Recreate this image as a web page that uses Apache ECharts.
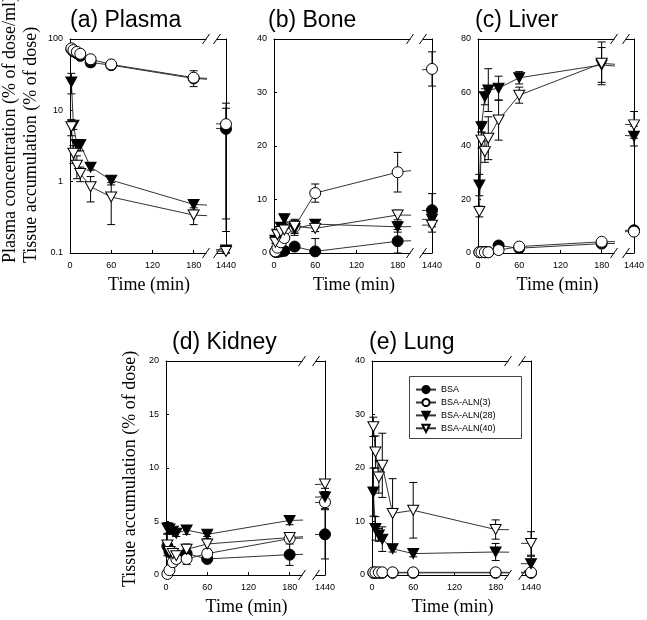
<!DOCTYPE html>
<html><head><meta charset="utf-8">
<script src="https://cdn.jsdelivr.net/npm/echarts@6/dist/echarts.min.js"></script>
<style>html,body{margin:0;padding:0;background:#fff}#c{width:647px;height:620px}</style>
</head><body><div id="c"></div>
<script>
// ---------- DATA ----------
const times = [2, 5, 10, 15, 30, 60, 180, 1440];
const groups = ['BSA', 'BSA-ALN(3)', 'BSA-ALN(28)', 'BSA-ALN(40)'];
const xTickLabels = [0, 60, 120, 180];
const breakTickLabels = [1440];

const plasma_BSA      = [72, 67, 63, 58, 47, 43, 28, 5.5];
const plasma_BSA_sd   = [0, 0, 0, 0, 6, 0, 0, 5.2];
const plasma_ALN3     = [74, 70, 66, 62, 52, 44, 28.7, 6.4];
const plasma_ALN3_sd  = [0, 0, 0, 0, 0, 0, 7.2, 6.2];
const plasma_ALN28    = [25, 6.2, 3.3, 3.3, 1.6, 1.05, 0.48, 0.11];
const plasma_ALN28_sd = [8, 0.8, 0.6, 0.6, 0.15, 0.15, 0.08, 0.01];
const plasma_ALN40    = [5.9, 2.5, 1.7, 1.3, 0.85, 0.61, 0.34, 0.105];
const plasma_ALN40_sd = [1.5, 0.7, 0.6, 0.3, 0.33, 0.36, 0.09, 0.01];

const bone_BSA      = [0.2, 0.2, 0.3, 0.4, 1.2, 0.3, 2.2, 8.0];
const bone_BSA_sd   = [0, 0, 0, 0, 0.5, 2.4, 2.2, 3.1];
const bone_ALN3     = [0.3, 1.0, 2.0, 2.8, 4.9, 11.2, 15.1, 34.4];
const bone_ALN3_sd  = [0.2, 0.4, 0.6, 0.8, 1.2, 1.7, 3.7, 3.2];
const bone_ALN28    = [2.4, 3.5, 4.8, 6.4, 4.6, 5.4, 4.9, 6.3];
const bone_ALN28_sd = [0.6, 0.8, 0.8, 0.8, 1.3, 0.5, 1.0, 1.0];
const bone_ALN40    = [2.0, 3.4, 4.0, 4.3, 5.0, 4.6, 7.1, 5.2];
const bone_ALN40_sd = [0.8, 1.0, 1.0, 1.0, 1.3, 0.6, 0.9, 1.3];

const liver_BSA      = [0.3, 0.3, 0.3, 0.3, 2.8, 1.8, 3.5, 8.5];
const liver_BSA_sd   = [0, 0, 0, 0, 0, 0, 0, 1.0];
const liver_ALN3     = [0.3, 0.3, 0.3, 0.3, 1.1, 2.4, 4.2, 8.0];
const liver_ALN3_sd  = [0, 0, 0, 0, 0, 0, 0.5, 1.5];
const liver_ALN28    = [25.4, 47.2, 58.4, 60.9, 61.6, 65.5, 70.3, 43.7];
const liver_ALN28_sd = [4, 2, 3, 8, 4.5, 2.3, 6.5, 3.7];
const liver_ALN40    = [15.5, 42.2, 37.9, 42.9, 49.7, 59.0, 70.9, 47.9];
const liver_ALN40_sd = [2, 3, 4, 8, 7.5, 3, 8, 5];

const kidney_BSA      = [2.7, 2.2, 1.9, 1.8, 2.0, 1.5, 1.9, 3.8];
const kidney_BSA_sd   = [0.3, 0.3, 0.3, 0.3, 0.4, 0.2, 1.0, 2.3];
const kidney_ALN3     = [0.1, 0.45, 1.2, 1.5, 1.5, 2.0, 3.4, 6.8];
const kidney_ALN3_sd  = [0.1, 0.2, 0.4, 0.4, 0.5, 0.3, 0.3, 0.6];
const kidney_ALN28    = [4.4, 4.3, 4.1, 3.9, 4.2, 3.8, 5.1, 7.3];
const kidney_ALN28_sd = [0.5, 0.4, 0.3, 0.3, 0.4, 0.2, 0.4, 0.5];
const kidney_ALN40    = [2.8, 2.2, 2.0, 1.8, 2.4, 2.9, 3.5, 8.5];
const kidney_ALN40_sd = [1.0, 0.5, 0.5, 0.5, 0.5, 0.5, 0.3, 0.4];

const lung_BSA      = [0.4, 0.4, 0.4, 0.4, 0.4, 0.4, 0.4, 0.4];
const lung_BSA_sd   = [0, 0, 0, 0, 0, 0, 0, 0];
const lung_ALN3     = [0.5, 0.5, 0.5, 0.5, 0.5, 0.5, 0.5, 0.5];
const lung_ALN3_sd  = [0, 0, 0, 0, 0, 0, 0, 0];
const lung_ALN28    = [15.5, 8.7, 7.5, 6.7, 4.9, 4.0, 4.3, 2.1];
const lung_ALN28_sd = [4.5, 2.2, 1.2, 2.3, 0.6, 0.6, 1.6, 1.4];
const lung_ALN40    = [27.7, 23.0, 18.3, 20.5, 11.5, 12.1, 8.5, 5.9];
const lung_ALN40_sd = [1.8, 3, 3, 6, 6.5, 5.2, 1.8, 2.2];

// ---------- LAYOUT / STYLE ----------
const panels = [
  {title:'(a) Plasma', L:70,  T:39,  R2:226, titleX:70,  yType:'log',   yMin:0.1, yMax:100,
   vals:[plasma_BSA, plasma_ALN3, plasma_ALN28, plasma_ALN40], sds:[plasma_BSA_sd, plasma_ALN3_sd, plasma_ALN28_sd, plasma_ALN40_sd]},
  {title:'(b) Bone',   L:274, T:39,  R2:432, titleX:268, yType:'value', yMin:0, yMax:40, yInt:10,
   vals:[bone_BSA, bone_ALN3, bone_ALN28, bone_ALN40], sds:[bone_BSA_sd, bone_ALN3_sd, bone_ALN28_sd, bone_ALN40_sd]},
  {title:'(c) Liver',  L:478, T:39,  R2:635, titleX:475, yType:'value', yMin:0, yMax:80, yInt:20,
   vals:[liver_BSA, liver_ALN3, liver_ALN28, liver_ALN40], sds:[liver_BSA_sd, liver_ALN3_sd, liver_ALN28_sd, liver_ALN40_sd]},
  {title:'(d) Kidney', L:166, T:361, R2:325, titleX:172, yType:'value', yMin:0, yMax:20, yInt:5,
   vals:[kidney_BSA, kidney_ALN3, kidney_ALN28, kidney_ALN40], sds:[kidney_BSA_sd, kidney_ALN3_sd, kidney_ALN28_sd, kidney_ALN40_sd]},
  {title:'(e) Lung',   L:372, T:361, R2:531, titleX:369, yType:'value', yMin:0, yMax:40, yInt:10,
   vals:[lung_BSA, lung_ALN3, lung_ALN28, lung_ALN40], sds:[lung_BSA_sd, lung_ALN3_sd, lung_ALN28_sd, lung_ALN40_sd]}
];
const H = 214, MW = 136, SW = 9, XMAX = 198, SEGMIN = 1430;
const TRI = 'path://M0,0L12,0L6,10Z';
const symbols = [
  {symbol:'circle', size:11, fill:'#000'},
  {symbol:'circle', size:11, fill:'#fff'},
  {symbol:TRI, size:[11,10], fill:'#000'},
  {symbol:TRI, size:[11,10], fill:'#fff'}
];
const SANS = 'Liberation Sans', SERIF = 'Liberation Serif';

const grids = [], xAxes = [], yAxes = [], series = [], graphics = [];

function errRender(params, api) {
  const x = api.value(0), lo = api.value(1), hi = api.value(2);
  const a = api.coord([x, hi]), b = api.coord([x, lo]);
  const w = 4, st = {stroke:'#000', lineWidth:1};
  return {type:'group', children:[
    {type:'line', shape:{x1:a[0], y1:a[1], x2:b[0], y2:b[1]}, style:st},
    {type:'line', shape:{x1:a[0]-w, y1:a[1], x2:a[0]+w, y2:a[1]}, style:st},
    {type:'line', shape:{x1:b[0]-w, y1:b[1], x2:b[0]+w, y2:b[1]}, style:st}
  ]};
}

let legendAxes = null;
panels.forEach((p, pi) => {
  const segs = [
    {left:p.L, width:MW, min:0, max:XMAX, ticks:xTickLabels, main:true, inSeg:t => t <= XMAX},
    {left:p.R2 - SW, width:SW, min:SEGMIN, max:1440, ticks:breakTickLabels, main:false, inSeg:t => t >= SEGMIN}
  ];
  segs.forEach(s => {
    const gi = grids.length;
    grids.push({left:s.left, top:p.T, width:s.width, height:H});
    const xi = xAxes.length;
    xAxes.push({type:'value', gridIndex:gi, position:'bottom', min:s.min, max:s.max, interval: s.main ? 60 : 10,
      axisLine:{show:true, onZero:false, lineStyle:{color:'#000', width:1}},
      axisTick:{show:true, inside:true, length:3, customValues:s.ticks, lineStyle:{color:'#000'}},
      axisLabel:{show:true, customValues:s.ticks, margin:8, fontSize:9, color:'#000', fontFamily:SANS,
        formatter: v => s.ticks.indexOf(v) >= 0 ? String(v) : ''},
      splitLine:{show:false}});
    xAxes.push({type:'value', gridIndex:gi, position:'top', min:s.min, max:s.max,
      axisLine:{show:true, onZero:false, lineStyle:{color:'#000', width:1}},
      axisTick:{show:false}, axisLabel:{show:false}, splitLine:{show:false}});
    const yi = yAxes.length;
    const ya = {type:p.yType, gridIndex:gi, position: s.main ? 'left' : 'right', min:p.yMin, max:p.yMax,
      axisLine:{show:true, onZero:false, lineStyle:{color:'#000', width:1}},
      axisTick:{show:s.main, inside:true, length:3, lineStyle:{color:'#000'}},
      axisLabel:{show:s.main, margin:7, fontSize:9, color:'#000', fontFamily:SANS},
      splitLine:{show:false}};
    if (p.yType === 'log') ya.logBase = 10; else ya.interval = p.yInt;
    yAxes.push(ya);
    if (pi === 4 && s.main) legendAxes = {xi, yi};

    // connecting lines (clipped by each segment)
    p.vals.forEach((v, gj) => {
      series.push({type:'line', xAxisIndex:xi, yAxisIndex:yi, data: times.map((t, k) => [t, v[k]]),
        symbol:'none', showSymbol:false, clip:true, silent:true, z:1,
        lineStyle:{color:'#333', width:1}});
    });
    // error bars
    const errData = [];
    p.vals.forEach((v, gj) => {
      times.forEach((t, k) => {
        const sd = p.sds[gj][k];
        if (s.inSeg(t) && sd > 0) {
          let lo = v[k] - sd; if (lo < p.yMin || (p.yType === 'log' && lo <= 0)) lo = p.yMin;
          let hi = Math.min(v[k] + sd, p.yMax);
          errData.push([t, lo, hi]);
        }
      });
    });
    series.push({type:'custom', xAxisIndex:xi, yAxisIndex:yi, data:errData, renderItem:errRender,
      encode:{x:0, y:[1,2]}, clip:false, silent:true, z:2});
    // markers
    p.vals.forEach((v, gj) => {
      const sy = symbols[gj];
      const pts = [];
      times.forEach((t, k) => { if (s.inSeg(t)) pts.push([t, v[k]]); });
      series.push({type:'scatter', xAxisIndex:xi, yAxisIndex:yi, data:pts, symbol:sy.symbol, symbolSize:sy.size,
        clip:false, silent:true, z:3, itemStyle:{color:sy.fill, borderColor:'#000', borderWidth:1, opacity:1}});
    });
  });

  // titles
  graphics.push({type:'text', x:p.titleX, y:p.T - 18, style:{text:p.title, fontSize:23, fontFamily:SANS, fill:'#000',
    align:'left', verticalAlign:'middle'}});
  graphics.push({type:'text', x:(p.L + p.R2) / 2 + 1, y:p.T + H + 32, style:{text:'Time (min)', fontSize:18, fontFamily:SERIF,
    fill:'#000', align:'center', verticalAlign:'middle'}});
  // axis break marks
  const R = p.L + MW, S = p.R2 - SW;
  [p.T, p.T + H].forEach(y => {
    [R, S].forEach(cx => {
      graphics.push({type:'line', shape:{x1:cx - 3.5, y1:y + 5, x2:cx + 3.5, y2:y - 5}, style:{stroke:'#000', lineWidth:1}});
    });
  });
});

// y-axis titles
graphics.push({type:'text', x:10, y:263, rotation:Math.PI / 2, style:{text:'Plasma concentration (% of dose/ml)',
  fontSize:18, fontFamily:SERIF, fill:'#000', align:'left', verticalAlign:'middle'}});
graphics.push({type:'text', x:31, y:263, rotation:Math.PI / 2, style:{text:'Tissue accumulation (% of dose)',
  fontSize:18, fontFamily:SERIF, fill:'#000', align:'left', verticalAlign:'middle'}});
graphics.push({type:'text', x:130, y:587, rotation:Math.PI / 2, style:{text:'Tissue accumulation (% of dose)',
  fontSize:18, fontFamily:SERIF, fill:'#000', align:'left', verticalAlign:'middle'}});
// legend frame
graphics.push({type:'rect', shape:{x:409.5, y:376.5, width:112, height:62}, style:{fill:null, stroke:'#444', lineWidth:1}, z:10});

// legend series (no data, icon only)
groups.forEach((g, gj) => {
  const sy = symbols[gj];
  series.unshift({type:'line', name:g, xAxisIndex:legendAxes.xi, yAxisIndex:legendAxes.yi, data:[],
    symbol:sy.symbol, symbolSize:sy.size, itemStyle:{color:sy.fill, borderColor:'#000', borderWidth:1},
    lineStyle:{color:'#333', width:1}});
});

const chart = echarts.init(document.getElementById('c'), null, {renderer:'canvas'});
chart.setOption({
  animation:false,
  backgroundColor:'#fff',
  grid:grids, xAxis:xAxes, yAxis:yAxes, series:series,
  legend:{data:groups, orient:'vertical', left:415, top:385, padding:0, itemWidth:20, itemHeight:9,
    itemGap:3.7, selectedMode:false, borderWidth:0,
    textStyle:{fontSize:9, fontFamily:SANS, color:'#000'}},
  graphic:{elements:graphics}
});
</script>
</body></html>
